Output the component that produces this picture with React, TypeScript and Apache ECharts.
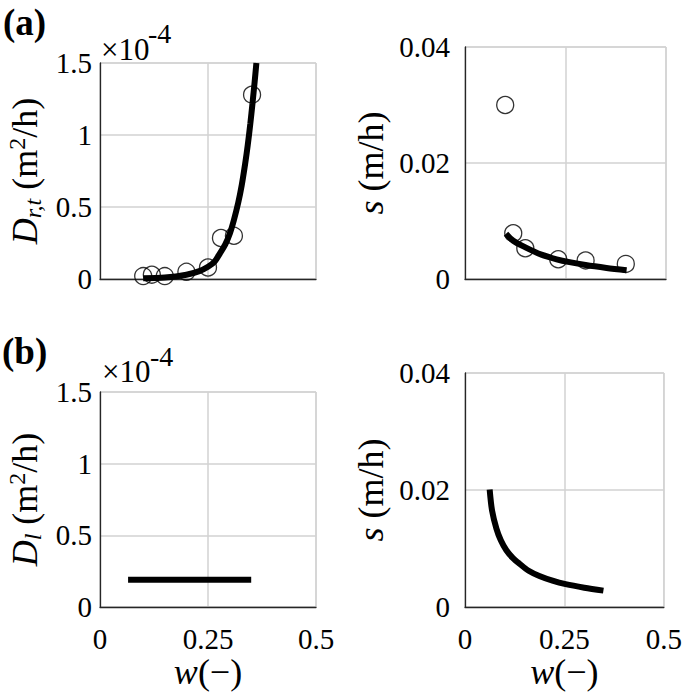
import React, { useEffect, useRef } from "react";
import * as echarts from "echarts";

// Panel (a) left: D_{r,t} (x1e-4 m^2/h) vs w
const wObsA = [0.1, 0.12, 0.15, 0.2, 0.25, 0.28, 0.31, 0.352];
const drtObs = [0.02, 0.03, 0.02, 0.05, 0.08, 0.285, 0.3, 1.28];
const wFitA = [0.1, 0.15, 0.2, 0.23, 0.25, 0.265, 0.278, 0.29, 0.301, 0.31, 0.32, 0.328, 0.336, 0.342, 0.348, 0.353, 0.358, 0.362];
const drtFit = [0.005, 0.01, 0.03, 0.055, 0.085, 0.12, 0.18, 0.24, 0.32, 0.41, 0.53, 0.65, 0.8, 0.93, 1.08, 1.22, 1.37, 1.5];

// Panel (a) right: s (m/h) vs w
const wObsS = [0.1, 0.12, 0.15, 0.232, 0.3, 0.4];
const sObs = [0.03, 0.0079, 0.0053, 0.0034, 0.0032, 0.0026];
const wFitS = [0.102, 0.12, 0.149, 0.19, 0.228, 0.26, 0.3, 0.352, 0.402];
const sFit = [0.0078, 0.0066, 0.0055, 0.0042, 0.0034, 0.0029, 0.0024, 0.0019, 0.0015];

// Panel (b) left: D_l
const wDl = [0.065, 0.35];
const dlVals = [0.19, 0.19];

// Panel (b) right: s
const wS2 = [0.062, 0.068, 0.079, 0.09, 0.104, 0.12, 0.137, 0.16, 0.187, 0.22, 0.253, 0.3, 0.348];
const s2Vals = [0.0201, 0.0165, 0.0134, 0.0114, 0.0097, 0.0084, 0.0074, 0.0062, 0.0053, 0.0045, 0.0039, 0.0033, 0.0028];

const xTicks = [0, 0.25, 0.5];
const dTicks = [0, 0.5, 1, 1.5];
const sTicks = [0, 0.02, 0.04];

const FONT = "'Liberation Serif', 'Times New Roman', serif";
const zip = (a: number[], b: number[]) => a.map((v, i) => [v, b[i]]);

export default function App() {
  const ref = useRef<HTMLDivElement>(null);
  useEffect(() => {
    if (!ref.current) return;
    const chart = echarts.init(ref.current, null, { renderer: "svg" });

    const grids = [
      { left: 100, top: 63, width: 216, height: 216 },
      { left: 465, top: 47, width: 201, height: 232 },
      { left: 100, top: 392, width: 216, height: 215 },
      { left: 465, top: 373, width: 201, height: 234 },
    ].map((g) => ({ ...g, show: true, borderColor: "#c4c4c4", borderWidth: 1, backgroundColor: "transparent" }));

    const nameRich = {
      i: { fontFamily: FONT, fontStyle: "italic", fontSize: 36, lineHeight: 40, color: "#000" },
      n: { fontFamily: FONT, fontSize: 36, lineHeight: 40, color: "#000" },
      sub: { fontFamily: FONT, fontStyle: "italic", fontSize: 24, lineHeight: 20, verticalAlign: "bottom", color: "#000" },
      sup: { fontFamily: FONT, fontSize: 24, lineHeight: 20, verticalAlign: "top", color: "#000" },
    };

    const xAxisFor = (idx: number, bottom: boolean) => ({
      type: "value",
      gridIndex: idx,
      min: xTicks[0],
      max: xTicks[xTicks.length - 1],
      interval: 0.25,
      axisLine: { show: true, onZero: false, lineStyle: { color: "#262626", width: 1.3 } },
      axisTick: { show: false },
      axisLabel: {
        show: bottom,
        margin: 17,
        fontFamily: FONT,
        fontSize: 29,
        color: "#000",
        formatter: (v: number) => String(v),
      },
      splitLine: { show: true, lineStyle: { color: "#d2d2d2", width: 1.5 } },
      name: bottom ? "{i|w}{n|(−)}" : "",
      nameLocation: "middle",
      nameGap: 43,
      nameTextStyle: { fontFamily: FONT, rich: nameRich },
    });

    const yAxisFor = (idx: number, kind: "d" | "s", name: string, gap: number, margin: number) => ({
      type: "value",
      gridIndex: idx,
      min: 0,
      max: kind === "d" ? dTicks[dTicks.length - 1] : sTicks[sTicks.length - 1],
      interval: kind === "d" ? 0.5 : 0.02,
      axisLine: { show: true, onZero: false, lineStyle: { color: "#262626", width: 1.3 } },
      axisTick: { show: false },
      axisLabel: {
        margin,
        fontFamily: FONT,
        fontSize: 29,
        color: "#000",
        formatter: (v: number) => (v === 0 ? "0" : kind === "d" ? String(v) : v.toFixed(2)),
      },
      splitLine: { show: true, lineStyle: { color: "#d2d2d2", width: 1.5 } },
      name,
      nameLocation: "middle",
      nameRotate: 90,
      nameGap: gap,
      nameTextStyle: { fontFamily: FONT, rich: nameRich },
    });

    const lineStyle = { color: "#000", width: 6, cap: "butt" };
    const circle = {
      type: "scatter",
      symbol: "circle",
      symbolSize: 17,
      itemStyle: { color: "rgba(0,0,0,0)", borderColor: "#000", borderWidth: 1.3 },
      z: 5,
    };
    const fit = {
      type: "line",
      showSymbol: false,
      symbol: "none",
      smooth: 0.3,
      lineStyle,
      z: 4,
    };

    const dName = "{i|D}{sub|r,t}{n| (m}{sup|2}{n|/h)}";
    const dlName = "{i|D}{sub|l}{n| (m}{sup|2}{n|/h)}";
    const sName = "{i|s}{n| (m/h)}";

    const option = {
      animation: false,
      backgroundColor: "#fff",
      textStyle: { fontFamily: FONT },
      grid: grids,
      xAxis: [xAxisFor(0, false), xAxisFor(1, false), xAxisFor(2, true), xAxisFor(3, true)],
      yAxis: [
        yAxisFor(0, "d", dName, 55, 8),
        yAxisFor(1, "s", sName, 74, 15),
        yAxisFor(2, "d", dlName, 55, 8),
        yAxisFor(3, "s", sName, 74, 15),
      ],
      series: [
        { ...fit, xAxisIndex: 0, yAxisIndex: 0, data: zip(wFitA, drtFit) },
        { ...circle, xAxisIndex: 0, yAxisIndex: 0, data: zip(wObsA, drtObs) },
        { ...fit, xAxisIndex: 1, yAxisIndex: 1, data: zip(wFitS, sFit) },
        { ...circle, xAxisIndex: 1, yAxisIndex: 1, data: zip(wObsS, sObs) },
        { ...fit, smooth: false, xAxisIndex: 2, yAxisIndex: 2, data: zip(wDl, dlVals) },
        { ...fit, xAxisIndex: 3, yAxisIndex: 3, data: zip(wS2, s2Vals) },
      ],
      graphic: [
        { type: "text", left: 3, top: 4, style: { text: "(a)", fontFamily: FONT, fontWeight: "bold", fontSize: 37, fill: "#000" } },
        { type: "text", left: 2, top: 333, style: { text: "(b)", fontFamily: FONT, fontWeight: "bold", fontSize: 37, fill: "#000" } },
        { type: "text", x: 101, y: 49, style: { text: "×10", fontFamily: FONT, fontSize: 31, fill: "#000", verticalAlign: "middle" } },
        { type: "text", x: 148, y: 33, style: { text: "-4", fontFamily: FONT, fontSize: 28, fill: "#000", verticalAlign: "middle" } },
        { type: "text", x: 102, y: 371, style: { text: "×10", fontFamily: FONT, fontSize: 31, fill: "#000", verticalAlign: "middle" } },
        { type: "text", x: 150, y: 356, style: { text: "-4", fontFamily: FONT, fontSize: 28, fill: "#000", verticalAlign: "middle" } },
      ],
    };
    chart.setOption(option as any);
    return () => chart.dispose();
  }, []);
  return (
    <div
      ref={ref}
      style={{ position: "fixed", left: 0, top: 0, width: 685, height: 693, background: "#fff" }}
    />
  );
}
